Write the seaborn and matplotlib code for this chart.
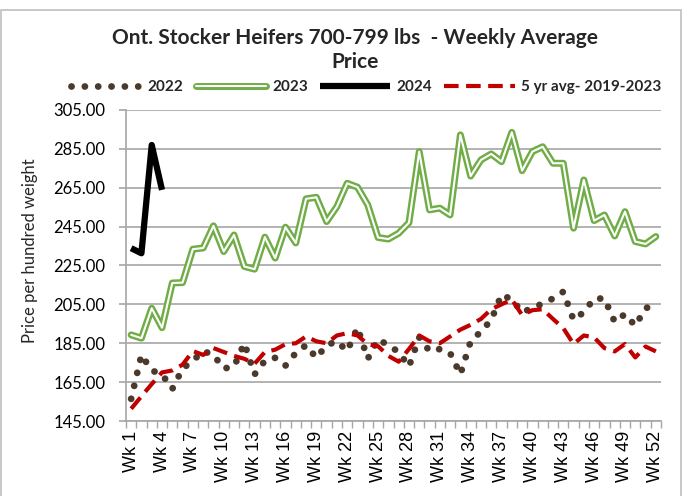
import numpy as np
import matplotlib
matplotlib.use("Agg")
import matplotlib.pyplot as plt
import matplotlib.patheffects as pe
from matplotlib.lines import Line2D
from matplotlib.patches import Rectangle
from matplotlib.ticker import FixedLocator
import seaborn as sns

# ---------------- data ----------------
weeks = list(range(1, 53))
week_labels = [f"Wk {w}" for w in weeks]

y2022 = [156.4, 179, 171, 169, 161.5, 172, 176, 181, 179, 172,
         173, 185, 169, 176, 177.5, 173.5, 180, 184, 177.5, 184,
         186, 181, 193, 177, 187, 184, 180.5, 173, 188, 181,
         182, 180, 169, 186, 191, 197, 210, 207.5, 201, 203,
         205.5, 208, 211.5, 197, 201, 208, 208, 196, 200, 194,
         203, 205]

y2023 = [189.3, 187.6, 203, 193, 216, 216.2, 233.4, 234, 245.4, 232.2,
         240.7, 224.5, 223.1, 239.6, 228.8, 244.7, 236.6, 259.3, 260.1, 247.6,
         255.3, 267.3, 265.3, 256.2, 239.4, 238.6, 241.6, 247, 283.6, 253.6,
         254.5, 251, 292.2, 271, 279.3, 282.4, 278.4, 293.5, 273.8, 283.6,
         286.1, 277.6, 277.6, 244.2, 269, 248.1, 251, 240.2, 252.7, 237.3,
         236.1, 239.9]

y2024 = [233.9, 231.3, 287, 263.9]

avg5 = [151.3, 157.7, 164, 170, 171, 174, 181, 179, 182.5, 180.5,
        178.5, 177, 174.5, 180.5, 181.7, 184.5, 185, 188.5, 186, 185,
        189, 190.2, 189, 184.5, 183.5, 178.5, 175.5, 182, 189, 186,
        185, 188.5, 192, 194.5, 197.5, 202.5, 205, 207.5, 199.5, 202,
        202.5, 197.5, 192.8, 184.6, 189, 188, 182.5, 180.8, 184.6, 177.7,
        183.3, 180.8]

y_ticks = [145, 165, 185, 205, 225, 245, 265, 285, 305]

series_labels = ["2022", "2023", "2024", "5 yr avg- 2019-2023"]
title_text = "Ont. Stocker Heifers 700-799 lbs  - Weekly Average\nPrice"
y_title = "Price per hundred weight"

# ---------------- style ----------------
C_2022 = "#4B3A2C"
C_2023 = "#70AD47"
C_2024 = "#000000"
C_AVG = "#C00000"
GRID = "#A6A6A6"

sns.set_theme(style="white")
plt.rcParams['font.family'] = ['Lato', 'DejaVu Sans']

W, H = 682, 496
fig = plt.figure(figsize=(W / 100, H / 100), dpi=100)
fig.patch.set_facecolor("white")
ax = fig.add_axes([126 / W, 1 - 421 / H, (661 - 126) / W, (421 - 110) / H])

x_all = np.arange(len(weeks))

dot_style = dict(color=C_2022, lw=4.9, linestyle=(0, (0.01, 1.95)),
                 dash_capstyle="round")
double_style = dict(color="white", lw=1.5,
                    path_effects=[pe.Stroke(linewidth=5.0, foreground=C_2023),
                                  pe.Normal()])
black_style = dict(color=C_2024, lw=4.5, solid_capstyle="butt")
avg_style = dict(color=C_AVG, lw=3.0, linestyle=(0, (3.5, 1.8)),
                 dash_capstyle="butt")

sns.lineplot(x=x_all, y=y2022, ax=ax, legend=False, **dot_style)
sns.lineplot(x=x_all, y=y2023, ax=ax, legend=False, **double_style)
sns.lineplot(x=x_all[:len(y2024)], y=y2024, ax=ax, legend=False, **black_style)
sns.lineplot(x=x_all, y=avg5, ax=ax, legend=False, **avg_style)

ax.set_xlim(-0.5, len(weeks) - 0.5)
ax.set_ylim(145, 305)

ax.set_yticks(y_ticks)
ax.set_yticklabels([f"{v:.2f}" for v in y_ticks], fontsize=12)
ax.yaxis.grid(True, color=GRID, lw=1.2)
ax.xaxis.grid(False)

ax.set_xticks(x_all[::3])
ax.set_xticklabels(week_labels[::3], rotation=90, fontsize=13,
                   family=['Liberation Sans', 'DejaVu Sans'])
ax.xaxis.set_minor_locator(FixedLocator(np.arange(-0.5, len(weeks), 1)))
ax.tick_params(axis="x", which="major", length=0, pad=7, colors="black")
ax.tick_params(axis="x", which="minor", length=5, width=1, color=GRID,
               direction="out", bottom=True)
ax.tick_params(axis="y", which="major", length=5, width=1.2, color=GRID,
               direction="out", left=True, pad=10, labelcolor="black")
ax.set_xlabel("")
ax.set_ylabel("")

for s in ["top", "right"]:
    ax.spines[s].set_visible(False)
for s in ["left", "bottom"]:
    ax.spines[s].set_color(GRID)
    ax.spines[s].set_linewidth(1.2)

# title and axis title
fig.text(355 / W, 1 - 50 / H, title_text, ha="center", va="center",
         fontsize=15, fontweight="bold", linespacing=1.3)
fig.text(30 / W, 1 - 251 / H, y_title, rotation=90, ha="center", va="center",
         fontsize=12)

# legend
handles = [
    Line2D([], [], **dot_style),
    Line2D([], [], **double_style),
    Line2D([], [], **black_style),
    Line2D([], [], **avg_style),
]
fig.legend(handles, series_labels, loc="center", bbox_to_anchor=(366 / W, 1 - 87 / H),
           ncol=4, frameon=False, prop=dict(family="Lato", weight="bold", size=11),
           handlelength=4.6, handletextpad=0.4, columnspacing=0.8)

# chart border
fig.patches.append(Rectangle((1 / W, -0.02), (W - 2) / W, 1 - 10 / H + 0.02,
                             transform=fig.transFigure, fill=False,
                             edgecolor="#BFBFBF", lw=1.2))

fig.savefig("out.png", dpi=100)
